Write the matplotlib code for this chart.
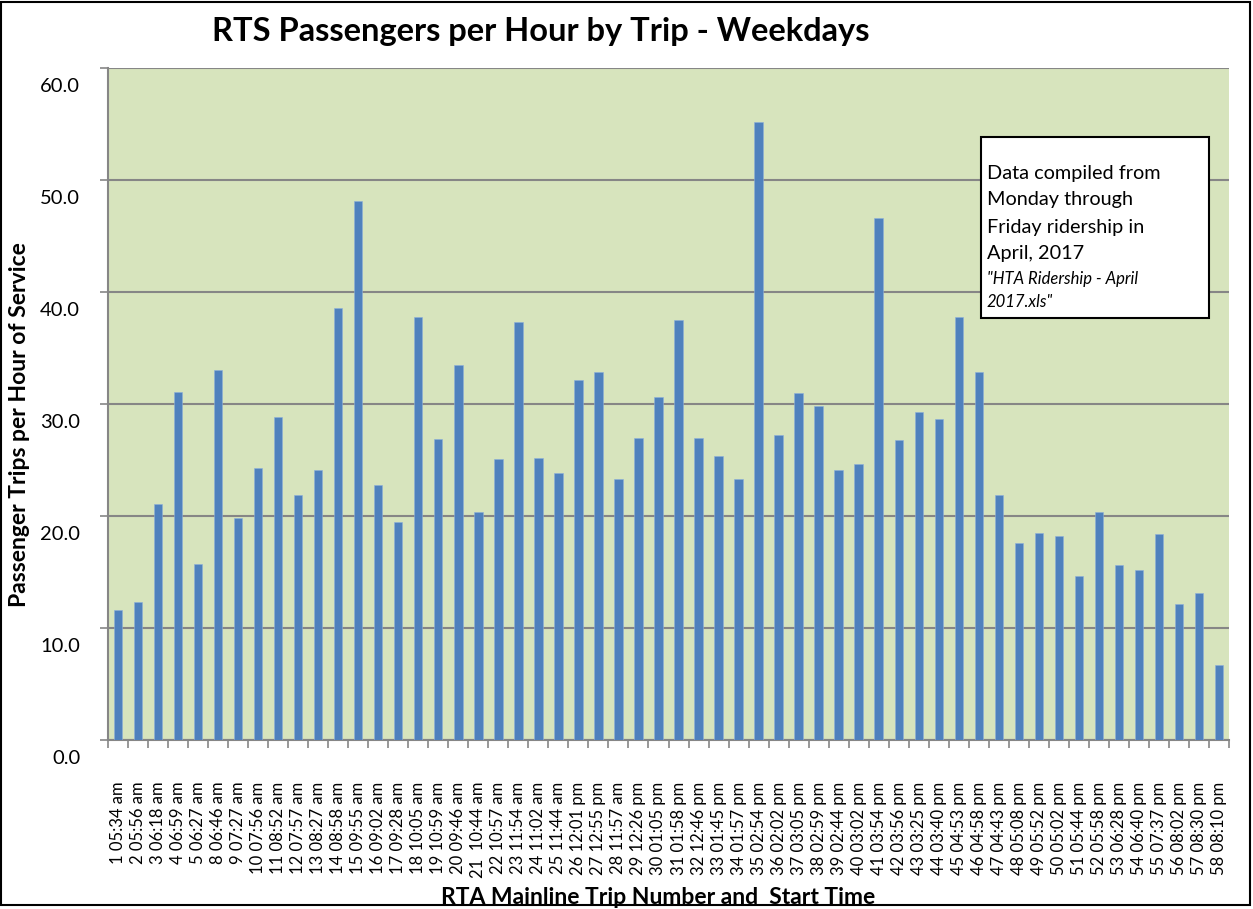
import matplotlib
matplotlib.use("Agg")
import matplotlib.pyplot as plt
import matplotlib.transforms as mtransforms
from matplotlib.patches import Rectangle
import numpy as np

plt.rcParams['font.family'] = ['Lato', 'DejaVu Sans']

trip_labels = [
    "1 05:34 am", "2 05:56 am", "3 06:18 am", "4 06:59 am", "5 06:27 am",
    "8 06:46 am", "9 07:27 am", "10 07:56 am", "11 08:52 am", "12 07:57 am",
    "13 08:27 am", "14 08:58 am", "15 09:55 am", "16 09:02 am", "17 09:28 am",
    "18 10:05 am", "19 10:59 am", "20 09:46 am", "21  10:44 am", "22 10:57 am",
    "23 11:54 am", "24 11:02 am", "25 11:44 am", "26 12:01 pm", "27 12:55 pm",
    "28 11:57 am", "29 12:26 pm", "30 01:05 pm", "31 01:58 pm", "32 12:46 pm",
    "33 01:45 pm", "34 01:57 pm", "35 02:54 pm", "36 02:02 pm", "37 03:05 pm",
    "38 02:59 pm", "39 02:44 pm", "40 03:02 pm", "41 03:54 pm", "42 03:56 pm",
    "43 03:25 pm", "44 03:40 pm", "45 04:53 pm", "46 04:58 pm", "47 04:43 pm",
    "48 05:08 pm", "49 05:52 pm", "50 05:02 pm", "51 05:44 pm", "52 05:58 pm",
    "53 06:28 pm", "54 06:40 pm", "55 07:37 pm", "56 08:02 pm", "57 08:30 pm",
    "58 08:10 pm",
]

passengers_per_hour = [
    11.6, 12.3, 21.1, 31.1, 15.7, 33.0, 19.8, 24.3, 28.8, 21.9,
    24.1, 38.6, 48.1, 22.8, 19.5, 37.8, 26.9, 33.5, 20.4, 25.1,
    37.3, 25.2, 23.8, 32.1, 32.9, 23.3, 27.0, 30.6, 37.5, 27.0,
    25.4, 23.3, 55.2, 27.2, 31.0, 29.8, 24.1, 24.6, 46.6, 26.8,
    29.3, 28.7, 37.8, 32.9, 21.9, 17.6, 18.5, 18.2, 14.6, 20.4,
    15.6, 15.2, 18.4, 12.1, 13.1, 6.7,
]

y_ticks = [0, 10, 20, 30, 40, 50, 60]

fig = plt.figure(figsize=(12.53, 9.09), dpi=100)
ax = fig.add_axes([108/1253, 1 - 740/909, (1229-108)/1253, (740-68)/909])

x = np.arange(len(passengers_per_hour))
ax.bar(x, passengers_per_hour, width=0.42, color='#4F81BD', edgecolor='#8DB0DA',
       linewidth=0.4, zorder=3)

ax.set_facecolor('#D7E4BD')
ax.set_xlim(-0.5, len(x) - 0.5)
ax.set_ylim(0, 60)

ax.set_yticks(y_ticks)
ax.set_yticklabels([f"{v:.1f}" for v in y_ticks], fontsize=14.5)
ax.yaxis.grid(True, color='#868686', linewidth=1.5, zorder=1)
ax.tick_params(axis='y', length=6, width=1.2, color='#868686', pad=14)
offset = mtransforms.ScaledTranslation(0, -0.17, fig.dpi_scale_trans)
for lbl in ax.get_yticklabels():
    lbl.set_transform(lbl.get_transform() + offset)

ax.set_xticks(x)
ax.set_xticklabels(trip_labels, rotation=90, fontsize=12, va='top', ha='center')
ax.set_xticks(np.arange(-0.5, len(x), 1.0), minor=True)
ax.tick_params(axis='x', which='major', length=0, pad=30)
ax.tick_params(axis='x', which='minor', length=6, width=1.2, color='#868686')

for side in ['top', 'right']:
    ax.spines[side].set_visible(False)
ax.spines['left'].set_color('#868686')
ax.spines['left'].set_linewidth(1.5)
ax.spines['bottom'].set_color('#868686')
ax.spines['bottom'].set_linewidth(1.5)

fig.text(541/1253, 1 - 32/909, "RTS Passengers per Hour by Trip - Weekdays",
         fontsize=23.5, fontweight='bold', ha='center', va='center')
fig.text(658/1253, 1 - 897/909, "RTA Mainline Trip Number and  Start Time",
         fontsize=16.5, fontweight='bold', ha='center', va='center')
fig.text(20/1253, 1 - 425/909, "Passenger Trips per Hour of Service",
         fontsize=16.5, fontweight='bold', ha='center', va='center', rotation=90)

# note box
box = Rectangle((981/1253, 1 - 318/909), (1209-981)/1253, (318-137)/909,
                transform=fig.transFigure, facecolor='white', edgecolor='black',
                linewidth=1.5, zorder=5)
fig.patches.append(box)
note_lines = ["Data compiled from", "Monday through", "Friday ridership in", "April, 2017"]
for i, line in enumerate(note_lines):
    fig.text(987/1253, 1 - (173 + 27*i)/909, line, fontsize=14.3, ha='left', va='center', zorder=6)
fig.text(987/1253, 1 - 279/909, "\"HTA Ridership - April", fontsize=12,
         style='italic', ha='left', va='center', zorder=6)
fig.text(987/1253, 1 - 302/909, "2017.xls\"", fontsize=12,
         style='italic', ha='left', va='center', zorder=6)

fig.patches.append(Rectangle((0.001, 0.004), 0.997, 0.994, transform=fig.transFigure,
                             fill=False, edgecolor='black', linewidth=1.5))

fig.savefig("out.png", dpi=100)
